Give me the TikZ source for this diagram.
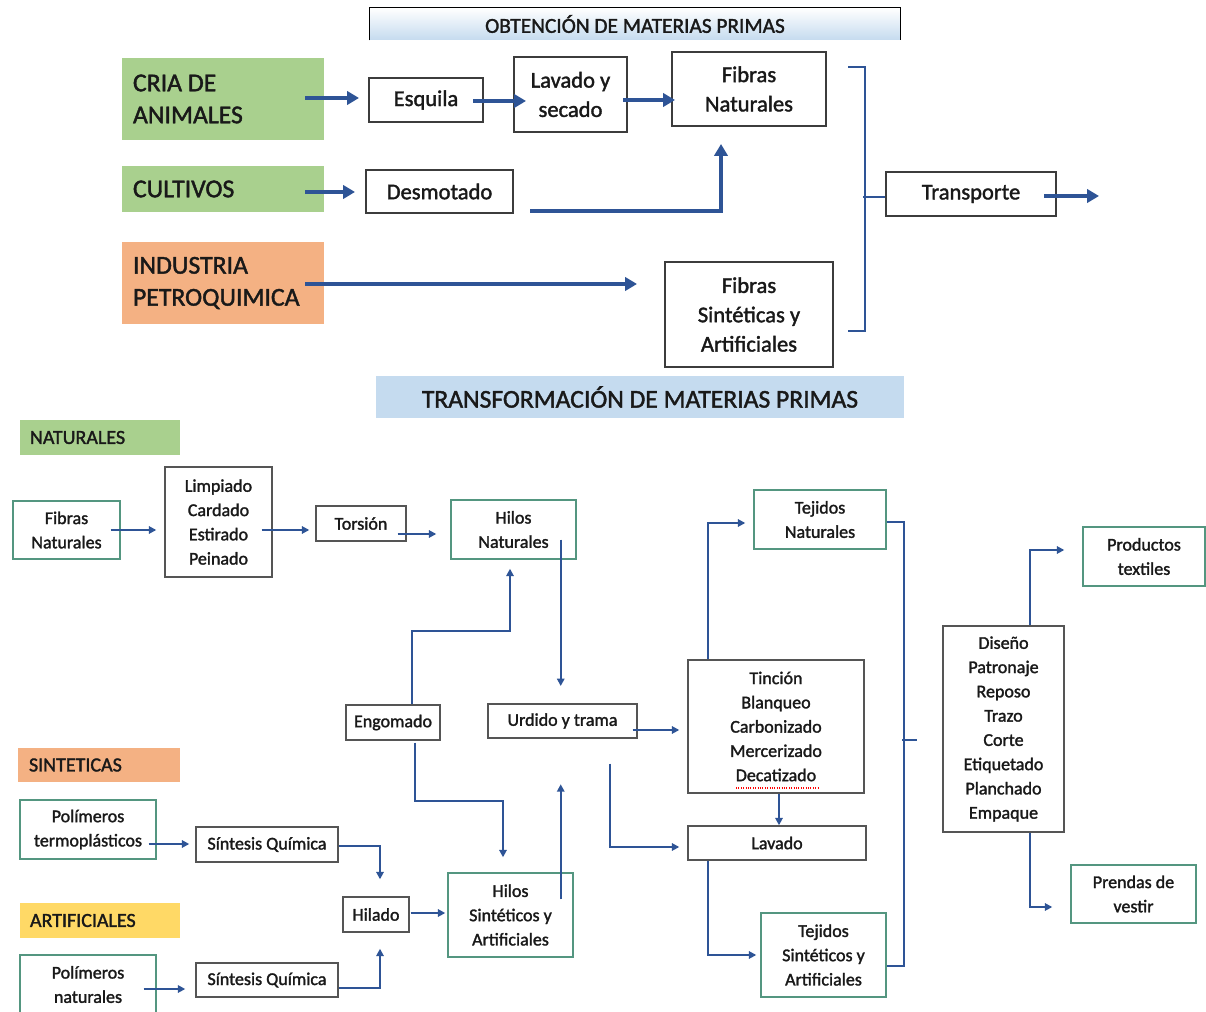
\documentclass[tikz,border=0pt]{standalone}
\usepackage{fontspec}
\setmainfont{Carlito}[FakeBold=1.6,BoldFont=Carlito]
\usetikzlibrary{calc,arrows.meta}
\definecolor{arrblue}{RGB}{46,84,150}
\definecolor{lgreen}{RGB}{169,208,142}
\definecolor{lorange}{RGB}{244,177,131}
\definecolor{lyellow}{RGB}{255,217,102}
\definecolor{lblue}{RGB}{197,219,239}
\definecolor{tealb}{RGB}{84,150,128}
\definecolor{gborder}{RGB}{85,85,85}
\definecolor{tborder}{RGB}{60,60,60}
\definecolor{txt}{RGB}{25,25,25}
\newcommand\ftop{\fontsize{16.9}{22}\selectfont\bfseries}
\newcommand\flab{\fontsize{19.3}{24}\selectfont\bfseries}
\newcommand\fbot{\fontsize{13.5}{18.2}\selectfont\bfseries}
\newcommand\fcat{\fontsize{15}{18}\selectfont\bfseries}
\newcommand\fhA{\fontsize{16}{18}\selectfont\bfseries}
\newcommand\fhB{\fontsize{19.2}{22}\selectfont\bfseries}
\newcommand\mybox[6]{\node[#1, minimum width={(#4-#2)*0.75pt}, minimum height={(#5-#3)*0.75pt}] (#6) at ({(#2+#4)/2},{(#3+#5)/2})}
\begin{document}
\begin{tikzpicture}[x=0.75pt,y=-0.75pt,
  tbox/.style={draw=tborder, line width=1.5pt, fill=white, inner sep=0pt, align=center, font=\ftop, text=txt},
  lab/.style={inner xsep=8.25pt, inner ysep=0pt, align=flush left, font=\flab, text=txt, text width=135pt},
  bbox/.style={draw=gborder, line width=1.1pt, fill=white, inner sep=0pt, align=center, font=\fbot, text=txt},
  gbox/.style={bbox, draw=tealb},
  cat/.style={inner xsep=7.5pt, inner ysep=0pt, align=flush left, font=\fcat, text=txt, text width=105pt},
  tarr/.style={draw=arrblue, line width=2.6pt, -{Triangle[length=9pt,width=10pt]}},
  tline/.style={draw=arrblue, line width=1.9pt},
  barr/.style={draw=arrblue, line width=1.4pt, -{Triangle[length=5.5pt,width=5.5pt]}},
  bline/.style={draw=arrblue, line width=1.4pt}]
\useasboundingbox (0,0) rectangle (1206,1012);
\fill[white] (0,0) rectangle (1206,1012);

% ---------- top section ----------
\mybox{inner sep=0pt, top color=white, bottom color=lblue, font=\fhA, text=txt}{370}{8}{900}{40}{h1} {OBTENCIÓN DE MATERIAS PRIMAS};
\draw[black, line width=1pt] (h1.south west) -- (h1.north west) -- (h1.north east) -- (h1.south east);

\mybox{lab, fill=lgreen}{122}{58}{324}{140}{cria} {CRIA DE\\ANIMALES};
\mybox{lab, fill=lgreen}{122}{166}{324}{212}{cult} {CULTIVOS};
\mybox{lab, fill=lorange}{122}{242}{324}{324}{ind} {INDUSTRIA\\PETROQUIMICA};
\mybox{tbox}{369}{78}{483}{122}{esq} {Esquila};
\mybox{tbox}{514}{57}{627}{132}{lav} {Lavado y\\secado};
\mybox{tbox}{672}{52}{826}{126}{fn} {Fibras\\Naturales};
\mybox{tbox}{366}{170}{513}{213}{desm} {Desmotado};
\mybox{tbox}{665}{262}{833}{367}{fs} {Fibras\\Sintéticas y\\Artificiales};
\mybox{tbox}{886}{172}{1056}{216}{tr} {Transporte};

\draw[tarr] ($(cria.east)+(-19,-1)$) -- ($(esq.west)+(-9,-2)$);
\draw[tarr] ($(esq.east)+(-11,1)$) -- ($(lav.west)+(13,6.5)$);
\draw[tarr] ($(lav.east)+(-5,5.5)$) -- ($(fn.west)+(4,11)$);
\draw[tarr] ($(cult.east)+(-19,3)$) -- ($(desm.west)+(-10,0.5)$);
\draw[tarr] ($(desm.south east)+(16,-3)$) -| ($(fn.south)+(-28,17)$);
\draw[tarr] ($(ind.east)+(-19,1)$) -- ($(fs.west)+(-27,-30.5)$);
\draw[tline] ($(fn.north east)+(21,16)$) -- ++(17,0) -- ($(fs.south east)+(31,-37)$) -- ++(-17,0);
\draw[tline] ($(tr.west)+(-22,3)$) -- ($(tr.west)+(0,3)$);
\draw[tarr] ($(tr.east)+(-13,2)$) -- ++(55,0);

% ---------- bottom section ----------
\mybox{inner sep=0pt, fill=lblue, font=\fhB, text=txt}{376}{376}{904}{418}{h2} {TRANSFORMACIÓN DE MATERIAS PRIMAS};

\mybox{cat, fill=lgreen}{20}{420}{180}{455}{cnat} {NATURALES};
\mybox{cat, fill=lorange}{18}{748}{180}{782}{csin} {SINTETICAS};
\mybox{cat, fill=lyellow}{20}{903}{180}{938}{cart} {ARTIFICIALES};

\mybox{gbox}{13}{501}{120}{559}{fnat} {Fibras\\Naturales};
\mybox{bbox}{165}{467}{272}{577}{limp} {Limpiado\\Cardado\\Estirado\\Peinado};
\mybox{bbox}{316}{506}{406}{541}{tor} {Torsión};
\mybox{gbox}{451}{500}{576}{559}{hn} {Hilos\\Naturales};
\mybox{bbox}{346}{705}{440}{740}{eng} {Engomado};
\mybox{bbox}{488}{704}{637}{738}{urd} {Urdido y trama};
\mybox{gbox}{448}{873}{573}{957}{hs} {Hilos\\Sintéticos y\\Artificiales};
\mybox{bbox}{688}{660}{864}{793}{tin} {Tinción\\Blanqueo\\Carbonizado\\Mercerizado\\Decatizado};
\mybox{bbox}{688}{826}{866}{860}{lavb} {Lavado};
\mybox{gbox}{754}{490}{886}{549}{tn} {Tejidos\\Naturales};
\mybox{gbox}{761}{913}{886}{997}{ts} {Tejidos\\Sintéticos y\\Artificiales};
\mybox{bbox}{943}{626}{1064}{832}{dis} {Diseño\\Patronaje\\Reposo\\Trazo\\Corte\\Etiquetado\\Planchado\\Empaque};
\mybox{gbox}{1083}{527}{1205}{586}{pt} {Productos\\textiles};
\mybox{gbox}{1071}{865}{1196}{923}{pv} {Prendas de\\vestir};
\mybox{gbox}{20}{800}{156}{859}{pterm} {Polímeros\\termoplásticos};
\mybox{bbox}{196}{827}{338}{862}{sq1} {Síntesis Química};
\mybox{gbox}{20}{955}{156}{1014}{pnat} {Polímeros\\naturales};
\mybox{bbox}{196}{963}{338}{997}{sq2} {Síntesis Química};
\mybox{bbox}{343}{897}{409}{932}{hil} {Hilado};

\draw[red, densely dotted, line width=0.8pt] (736,788) -- (818,788);

\draw[barr] ($(fnat.east)+(-10,0)$) -- ($(limp.west)+(-8,8)$);
\draw[barr] ($(limp.east)+(-11,8)$) -- ($(tor.west)+(-6,6.5)$);
\draw[barr] ($(tor.east)+(-9,10.5)$) -- ($(hn.west)+(-14,4.5)$);
\draw[barr] ($(hn.east)+(-16,10)$) -- ($(hn.east)+(-16,156.5)$);
\draw[barr] ($(eng.north)+(19,0)$) -- ++(0,-73) -| ($(hn.south)+(-3.5,9)$);
\draw[barr] ($(eng.south)+(22,2)$) -- ++(0,58) -| ($(hs.north)+(-7.5,-15)$);
\draw[barr] ($(hs.north east)+(-13,27)$) -- ($(hs.north east)+(-13,-88)$);
\draw[barr] ($(urd.east)+(-5,9)$) -- ($(tin.west)+(-8,3.5)$);
\draw[barr] ($(urd.south)+(47.5,25)$) |- ($(lavb.west)+(-8,4)$);
\draw[barr] ($(tin.south)+(3,0)$) -- ($(lavb.north)+(2,0)$);
\draw[barr] ($(tin.north west)+(21,0)$) |- ($(tn.west)+(-8,3.5)$);
\draw[barr] ($(lavb.south west)+(21,0)$) |- ($(ts.west)+(-4,0)$);
\draw[bline] ($(tn.east)+(0,2.5)$) -- ++(17,0) -- ($(ts.east)+(17,11)$) -- ($(ts.east)+(0,11)$);
\draw[bline] ($(dis.west)+(-40,11)$) -- ++(15,0);
\draw[barr] ($(dis.north)+(26.5,0)$) |- ($(pt.west)+(-18,-6.5)$);
\draw[barr] ($(dis.south)+(26.5,0)$) |- ($(pv.west)+(-18,13)$);
\draw[barr] ($(pterm.east)+(-8,14.5)$) -- ($(sq1.west)+(-6,-0.5)$);
\draw[barr] ($(sq1.east)+(0,1.5)$) -| ($(hil.north)+(4,-17)$);
\draw[barr] ($(pnat.east)+(-13,4.5)$) -- ($(sq2.west)+(-10,9)$);
\draw[barr] ($(sq2.east)+(0,8)$) -| ($(hil.south)+(4,16)$);
\draw[barr, line width=2.2pt] ($(hil.east)+(1,-1.5)$) -- ($(hs.west)+(-2,-2)$);
\end{tikzpicture}
\end{document}
